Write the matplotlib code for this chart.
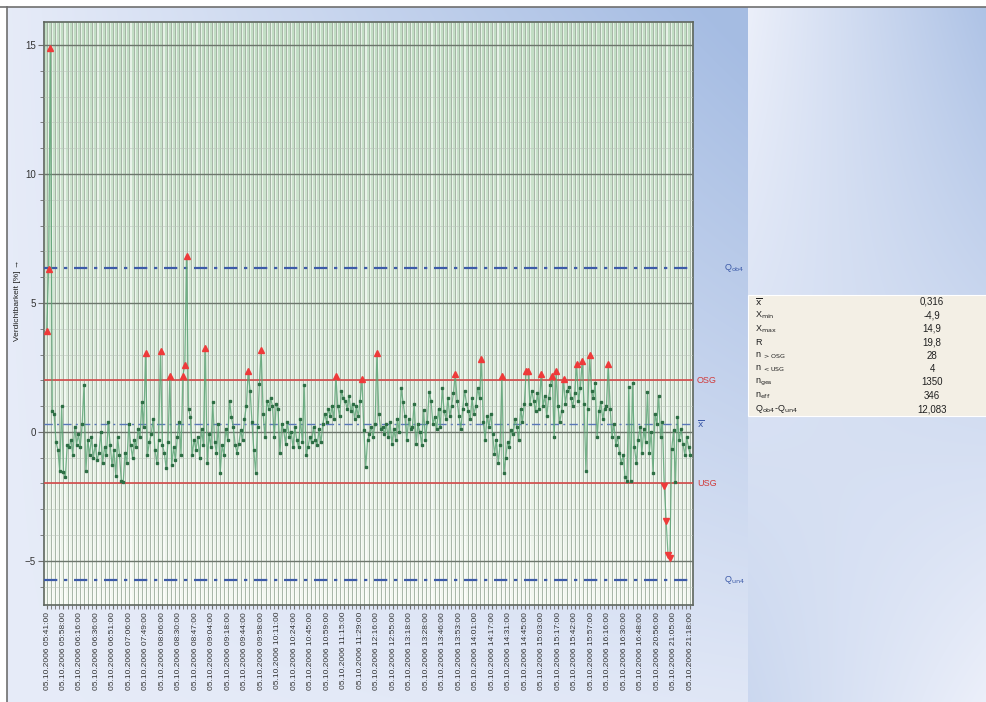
import numpy as np
import matplotlib
matplotlib.use('Agg')
import matplotlib.pyplot as plt

plt.rcParams['font.family'] = ['Liberation Sans', 'DejaVu Sans']

# Verdichtbarkeit [%], one value per sample (n_eff = 346)
werte = [
    3.9, 6.3, 14.9, 0.8, 0.7, -0.4, -0.7, -1.5, 1.0, -1.55, -1.75, -0.5, -0.6, -0.3, -0.9, 0.2, -0.5, -0.1, -0.6, 0.3,
    1.8, -1.5, -0.3, -0.9, -0.2, -1.0, -0.5, -1.1, -0.8, 0.0, -1.2, -0.6, -0.9, 0.4, -0.5, -1.3, -0.7, -1.7, -0.2, -0.9,
    -1.9, -1.95, -0.8, -1.2, 0.3, -0.5, -1.0, -0.3, -0.6, 0.1, -0.2, 1.16, 0.2, 3.06, -0.9, -0.4, -0.1, 0.5, -0.7, -1.2,
    -0.3, 3.15, -0.5, -0.8, -1.4, -0.4, 2.17, -1.3, -0.6, -1.1, -0.2, 0.4, -0.9, 2.17, 2.58, 6.82, 0.9, 0.58, -0.9, -0.3,
    -0.7, -0.2, -1.0, 0.1, -0.5, 3.27, -1.2, -0.1, -0.6, 1.16, -0.4, -0.8, 0.3, -1.6, -0.5, -0.9, 0.1, -0.3, 1.2, 0.58,
    0.2, -0.5, -0.8, -0.45, 0.06, -0.3, 0.5, 1.0, 2.36, 1.6, 0.4, -0.7, -1.6, 0.2, 1.87, 3.18, 0.7, -0.2, 1.2, 0.9,
    1.3, 1.0, -0.2, 1.1, 0.9, -0.8, 0.3, 0.06, -0.45, 0.4, -0.2, 0.0, -0.6, 0.2, -0.3, -0.6, 0.5, -0.4, 1.8, -0.9,
    -0.6, -0.2, -0.4, 0.2, -0.3, -0.5, 0.1, -0.4, 0.3, 0.7, 0.4, 0.9, 0.6, 1.0, 0.5, 2.17, 1.0, 0.6, 1.6, 1.3,
    1.2, 0.9, 1.4, 0.8, 1.1, 0.5, 1.0, 0.6, 1.2, 2.07, 0.06, -1.35, -0.3, -0.1, 0.2, -0.2, 0.3, 3.06, 0.7, 0.1,
    0.2, -0.1, 0.3, -0.2, 0.4, -0.45, 0.1, -0.3, 0.5, 0.0, 1.7, 1.16, 0.6, -0.3, 0.5, 0.1, 0.2, 1.1, -0.45, 0.3,
    0.0, -0.5, 0.85, -0.3, 0.4, 1.55, 1.2, 0.3, 0.58, 0.1, 0.9, 0.2, 1.7, 0.8, 0.5, 1.3, 0.6, 1.0, 1.5, 2.26,
    1.2, 0.6, 0.13, 0.9, 1.6, 1.1, 0.8, 0.5, 1.3, 0.7, 1.0, 1.7, 1.3, 2.84, 0.4, -0.3, 0.6, 0.2, 0.7, -0.1,
    -0.85, -0.3, -1.2, -0.5, 2.17, -1.6, -1.0, -0.4, -0.6, 0.06, -0.1, 0.5, 0.2, -0.3, 0.9, 0.4, 1.1, 2.36, 2.36, 1.1,
    1.6, 1.2, 0.8, 1.5, 0.9, 2.26, 1.0, 1.4, 0.6, 1.3, 1.8, 2.16, -0.2, 2.36, 1.0, 0.4, 0.8, 2.05, 1.1, 1.6,
    1.75, 1.3, 1.0, 1.5, 2.65, 1.2, 1.7, 2.75, 1.1, -1.5, 0.9, 2.97, 1.6, 1.3, 1.9, -0.2, 0.8, 1.16, 0.5, 0.9,
    1.0, 2.65, 0.9, -0.2, 0.3, -0.5, -0.2, -0.8, -1.2, -0.9, -1.75, -1.9, 1.75, -1.9, 1.9, -0.6, -1.2, -0.3, 0.2, -0.8,
    0.1, -0.4, 1.55, -0.8, 0.0, -1.6, 0.7, 0.3, 1.4, -0.2, 0.4, -2.09, -3.45, -4.77, -4.9, -0.65, 0.06, -1.95, 0.58, -0.3,
    0.1, -0.45, -0.9, -0.2, -0.6, -0.9,
]

# limits
osg = 2.0
usg = -2.0
mittel = 0.316
q_ob4 = 6.35
q_un4 = -5.73

zeiten = [
    '05:41:00', '05:58:00', '06:16:00', '06:36:00', '06:51:00', '07:06:00', '07:49:00', '08:06:00',
    '08:30:00', '08:47:00', '09:04:00', '09:18:00', '09:44:00', '09:58:00', '10:11:00', '10:24:00',
    '10:45:00', '10:59:00', '11:15:00', '11:29:00', '12:16:00', '12:55:00', '13:18:00', '13:28:00',
    '13:46:00', '13:53:00', '14:01:00', '14:17:00', '14:31:00', '14:45:00', '15:03:00', '15:17:00',
    '15:42:00', '15:57:00', '16:16:00', '16:30:00', '16:48:00', '20:56:00', '21:05:00', '21:18:00',
]
datum = '05.10.2006'

stat_namen = [r'$\overline{\mathrm{x}}$', r'X$_{\mathrm{min}}$', r'X$_{\mathrm{max}}$', 'R',
              r'n $_{>\mathrm{OSG}}$', r'n $_{<\mathrm{USG}}$', r'n$_{\mathrm{ges}}$', r'n$_{\mathrm{eff}}$',
              r'Q$_{\mathrm{ob4}}$-Q$_{\mathrm{un4}}$']
stat_werte = ['0,316', '-4,9', '14,9', '19,8', '28', '4', '1350', '346', '12,083']

W, H = 986, 702
fig = plt.figure(figsize=(W / 100, H / 100), dpi=100)

# ---- background (pixel coordinates) ----
bg = fig.add_axes([0, 0, 1, 1], zorder=-10)
X, Y = np.meshgrid(np.arange(W) + 0.5, np.arange(H) + 0.5)
hell = np.array([0.94, 0.95, 0.985])
blau = np.array([0.65, 0.74, 0.89])
w_left = np.clip((X / 748) * (1 - 0.9 * Y / H) * 0.95 + 0.12, 0, 1)
u = np.clip((X - 748) / 238, 0, 1)
w_right = np.clip(0.05 + 0.85 * u * (1 - Y / H) + 0.45 * (Y / H) * (1 - u), 0, 1)
w = np.where(X < 748, w_left, w_right)
img = hell[None, None, :] * (1 - w[..., None]) + blau[None, None, :] * w[..., None]
img[:7, :, :] = 1.0
img[:, :7, :] = 1.0
bg.imshow(img, extent=(0, W, H, 0), aspect='auto', interpolation='bilinear')
bg.set_xlim(0, W)
bg.set_ylim(H, 0)
bg.axis('off')
bg.plot([0, W], [7, 7], color='#6f6f6f', lw=1.2)
bg.plot([7, 7], [7, H], color='#6f6f6f', lw=1.2)

# stats table
bg.add_patch(plt.Rectangle((748, 295), W - 748, 121, facecolor='#f3efe5', edgecolor='#ffffff', lw=0.8))
for k, (name, wert) in enumerate(zip(stat_namen, stat_werte)):
    yk = 302 + k * 13.4
    bg.text(755, yk, name, fontsize=6.5, va='center', ha='left', color='#202020')
    bg.text(932, yk, wert, fontsize=7, va='center', ha='center', color='#202020')

bg.text(18, 300, 'Verdichtbarkeit [%] \u2192', rotation=90, fontsize=6, ha='center', va='center',
        color='#202020')

# ---- chart ----
ax = fig.add_axes([44 / W, (H - 605) / H, 649 / W, 583 / H])
n = len(werte)
idx = np.arange(n)
x_lo, x_hi = -1.45, 346.4
y_lo, y_hi = -6.71, 15.89
ax.set_xlim(x_lo, x_hi)
ax.set_ylim(y_lo, y_hi)

# green fading plot area
grad = np.linspace(0, 1, 200)[:, None]
gruen = np.array([0.76, 0.87, 0.77])
weiss = np.array([0.96, 0.975, 0.95])
area = gruen[None, None, :] * (1 - grad[..., None] ** 1.3) + weiss[None, None, :] * grad[..., None] ** 1.3
ax.imshow(area, extent=(x_lo, x_hi, y_lo, y_hi), origin='upper', aspect='auto', zorder=0)

# vertical stripes on each tick interval
tick_pos = np.linspace(0.16, 0.16 + 8.84 * 39, 157)
step = tick_pos[1] - tick_pos[0]
ax.bar(tick_pos - step, y_hi - y_lo, width=step * 0.5, bottom=y_lo, align='edge',
       color='white', alpha=0.6, lw=0, zorder=1)
ax.bar([tick_pos[-1]], y_hi - y_lo, width=step * 0.5, bottom=y_lo, align='edge',
       color='white', alpha=0.6, lw=0, zorder=1)
ax.vlines(tick_pos, y_lo, y_hi, color='#9aaa9a', lw=0.6, zorder=2)

# horizontal grid
for v in range(-6, 16):
    if v % 5 == 0:
        ax.axhline(v, color='#6c766c', lw=1.0, zorder=3)
    else:
        ax.axhline(v, color='#b8c2b8', lw=0.5, zorder=3, alpha=0.7)

# reference lines
ax.axhline(osg, color='#d24848', lw=1.2, zorder=4)
ax.axhline(usg, color='#d24848', lw=1.2, zorder=4)
ax.axhline(mittel, color='#5a78b8', lw=1.0, ls=(0, (6, 3, 1.5, 3)), zorder=4)
ax.axhline(q_ob4, color='#3c5aa8', lw=1.6, ls=(0, (6, 3, 1.5, 3)), zorder=4)
ax.axhline(q_un4, color='#3c5aa8', lw=1.6, ls=(0, (6, 3, 1.5, 3)), zorder=4)

# series
werte_arr = np.array(werte)
ax.plot(idx, werte_arr, color='#5aa474', lw=0.9, alpha=0.8, zorder=5)
normal = (werte_arr <= osg) & (werte_arr >= usg)
ax.plot(idx[normal], werte_arr[normal], ls='none', marker='s', ms=1.7, color='#2d6e44', zorder=6)
oben = werte_arr > osg
unten = werte_arr < usg
ax.plot(idx[oben], werte_arr[oben], ls='none', marker='^', ms=4.3, color='#ee3a3a', zorder=7)
ax.plot(idx[unten], werte_arr[unten], ls='none', marker='v', ms=4.3, color='#ee3a3a', zorder=7)

# labels on the right
ytr = ax.get_yaxis_transform()
ax.text(1.006, osg, 'OSG', transform=ytr, fontsize=6.5, color='#d03a3a', va='center', ha='left')
ax.text(1.006, usg, 'USG', transform=ytr, fontsize=6.5, color='#d03a3a', va='center', ha='left')
ax.text(1.006, mittel, r'$\overline{\mathrm{x}}$', transform=ytr, fontsize=6.5, color='#3c5aa8', va='center', ha='left')
ax.text(1.048, q_ob4, r'Q$_{\mathrm{ob4}}$', transform=ytr, fontsize=6.5, color='#3c5aa8', va='center', ha='left')
ax.text(1.048, q_un4, r'Q$_{\mathrm{un4}}$', transform=ytr, fontsize=6.5, color='#3c5aa8', va='center', ha='left')

# axes
ax.set_yticks([-5, 0, 5, 10, 15])
ax.set_yticks(range(-6, 16), minor=True)
ax.set_xticks(tick_pos[::4])
ax.set_xticklabels([datum + ' ' + t for t in zeiten], rotation=90, fontsize=6, color='#333333')
ax.set_xticks(tick_pos, minor=True)
ax.tick_params(axis='y', which='major', labelsize=7, length=4, color='#707070', labelcolor='#333333', pad=2)
ax.tick_params(axis='y', which='minor', length=3, color='#707070')
ax.tick_params(axis='x', which='both', length=3, color='#707070', pad=2)
for s in ax.spines.values():
    s.set_color('#5e665e')
    s.set_linewidth(1.2)

plt.savefig('out.png', dpi=100)
